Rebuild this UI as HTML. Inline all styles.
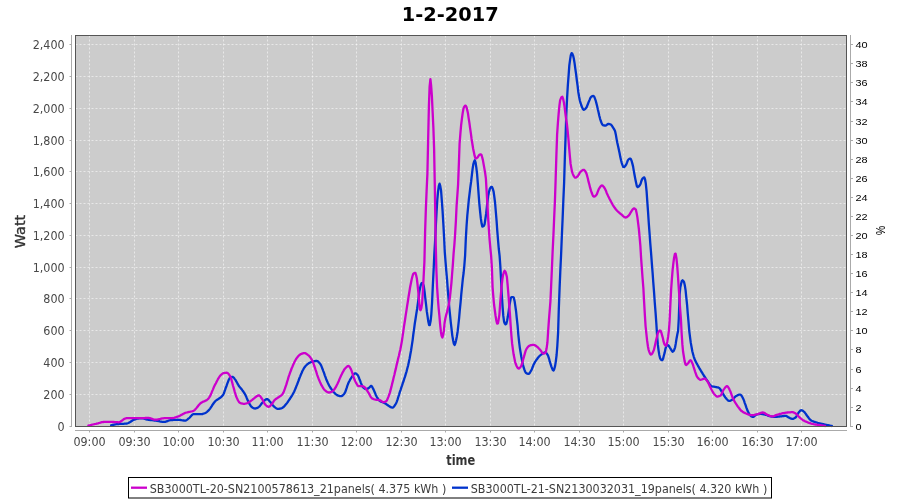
<!DOCTYPE html>
<html lang="en"><head><meta charset="utf-8"><title>1-2-2017</title>
<style>html,body{margin:0;padding:0;background:#fff}svg{display:block}.tl{font-family:"DejaVu Sans Condensed","DejaVu Sans","Liberation Sans",sans-serif;font-size:12.4px;fill:#484848}.tr{font-family:"Liberation Sans",sans-serif;font-size:10px;fill:#000}.lg{font-family:"DejaVu Sans Condensed","DejaVu Sans","Liberation Sans",sans-serif;font-size:12.3px;fill:#3c3c3c}.ax{font-family:"DejaVu Sans Condensed","DejaVu Sans","Liberation Sans",sans-serif;font-size:14px;font-weight:bold;fill:#333}</style></head><body>
<svg width="900" height="500" viewBox="0 0 900 500">
<rect width="900" height="500" fill="#fff"/>
<text x="450.3" y="20.9" text-anchor="middle" textLength="97" lengthAdjust="spacingAndGlyphs" style="font-family:'DejaVu Sans','Liberation Sans',sans-serif;font-size:20.3px;font-weight:bold;fill:#000">1-2-2017</text>
<rect x="75.5" y="35.5" width="771.0" height="391.0" fill="#ccc"/>
<path d="M89.5 35.5V426.5M134.5 35.5V426.5M178.5 35.5V426.5M223.5 35.5V426.5M267.5 35.5V426.5M312.5 35.5V426.5M356.5 35.5V426.5M401.5 35.5V426.5M445.5 35.5V426.5M490.5 35.5V426.5M534.5 35.5V426.5M579.5 35.5V426.5M623.5 35.5V426.5M668.5 35.5V426.5M712.5 35.5V426.5M757.5 35.5V426.5M801.5 35.5V426.5M75.5 394.50H846.5M75.5 362.50H846.5M75.5 330.50H846.5M75.5 298.50H846.5M75.5 267.50H846.5M75.5 235.50H846.5M75.5 203.50H846.5M75.5 171.50H846.5M75.5 140.50H846.5M75.5 108.50H846.5M75.5 76.50H846.5M75.5 44.50H846.5" stroke="#fff" stroke-opacity="0.55" stroke-width="1" stroke-dasharray="2 2" fill="none"/>
<g fill="none" stroke-width="2.3" stroke-linejoin="round" stroke-linecap="round">
<path d="M111.1 425.3 L111.8 425.1 L112.6 424.9 L113.3 424.8 L114.1 424.6 L114.8 424.5 L115.6 424.3 L116.3 424.2 L117.1 424.1 L117.8 424.0 L118.6 424.0 L119.3 423.9 L120.1 423.9 L120.8 423.8 L121.6 423.8 L122.3 423.8 L123.1 423.8 L123.8 423.8 L124.6 423.7 L125.3 423.7 L126.1 423.6 L126.8 423.5 L127.6 423.3 L128.3 423.0 L129.1 422.6 L129.8 422.2 L130.6 421.8 L131.3 421.3 L132.1 420.8 L132.8 420.2 L133.6 419.8 L134.3 419.6 L135.1 419.3 L135.8 419.1 L136.6 418.9 L137.3 418.7 L138.1 418.6 L138.8 418.4 L139.6 418.3 L140.3 418.3 L141.1 418.2 L141.8 418.3 L142.6 418.3 L143.3 418.5 L144.1 418.7 L144.8 418.9 L145.6 419.1 L146.3 419.4 L147.1 419.6 L147.8 419.7 L148.6 419.8 L149.3 419.9 L150.1 420.0 L150.8 420.1 L151.6 420.2 L152.3 420.2 L153.1 420.3 L153.8 420.4 L154.6 420.5 L155.3 420.6 L156.1 420.7 L156.8 420.8 L157.6 420.9 L158.3 421.1 L159.1 421.2 L159.8 421.4 L160.6 421.6 L161.3 421.7 L162.1 421.8 L162.8 421.9 L163.6 421.9 L164.3 421.9 L165.1 421.8 L165.8 421.6 L166.6 421.4 L167.3 421.1 L168.1 420.8 L168.8 420.5 L169.6 420.3 L170.3 420.1 L171.1 420.1 L171.8 420.0 L172.6 420.0 L173.3 419.9 L174.1 419.9 L174.8 419.8 L175.6 419.8 L176.3 419.8 L177.1 419.8 L177.8 419.7 L178.6 419.8 L179.3 419.8 L180.1 419.9 L180.8 420.0 L181.6 420.2 L182.3 420.3 L183.1 420.4 L183.8 420.5 L184.6 420.6 L185.3 420.6 L186.1 420.3 L186.8 419.9 L187.6 419.3 L188.3 418.7 L189.1 418.1 L189.8 417.5 L190.6 416.6 L191.3 415.7 L192.1 414.9 L192.8 414.3 L193.6 414.2 L194.3 414.2 L195.1 414.2 L195.8 414.2 L196.6 414.2 L197.3 414.2 L198.1 414.2 L198.8 414.2 L199.6 414.2 L200.3 414.2 L201.1 414.2 L201.8 414.1 L202.6 414.0 L203.3 413.7 L204.1 413.5 L204.8 413.2 L205.6 412.8 L206.3 412.4 L207.1 411.8 L207.8 411.1 L208.6 410.4 L209.3 409.6 L210.1 408.6 L210.8 407.5 L211.6 406.4 L212.3 405.2 L213.1 404.0 L213.8 403.0 L214.6 402.0 L215.3 401.2 L216.1 400.5 L216.8 399.9 L217.6 399.4 L218.3 399.0 L219.1 398.5 L219.8 398.1 L220.6 397.5 L221.3 396.9 L222.1 396.2 L222.8 395.3 L223.6 394.0 L224.3 392.1 L225.1 389.9 L225.8 387.7 L226.6 385.7 L227.3 383.7 L228.1 381.6 L228.8 379.7 L229.6 378.3 L230.3 377.6 L231.1 377.3 L231.8 377.0 L232.6 376.9 L233.3 377.2 L234.1 378.0 L234.8 379.1 L235.6 380.1 L236.3 381.4 L237.1 382.8 L237.8 384.2 L238.6 385.5 L239.3 386.5 L240.1 387.4 L240.8 388.2 L241.6 389.2 L242.3 390.2 L243.1 391.2 L243.8 392.3 L244.6 393.5 L245.3 394.8 L246.1 396.4 L246.8 398.2 L247.6 400.0 L248.3 401.7 L249.1 403.1 L249.8 404.4 L250.6 405.7 L251.3 406.6 L252.1 407.3 L252.8 407.7 L253.6 408.1 L254.3 408.4 L255.1 408.5 L255.8 408.4 L256.6 408.2 L257.3 407.9 L258.1 407.4 L258.8 406.9 L259.6 406.3 L260.3 405.4 L261.1 404.3 L261.8 403.3 L262.6 402.4 L263.3 401.6 L264.1 400.9 L264.8 400.2 L265.6 399.6 L266.3 399.2 L267.1 399.1 L267.8 399.4 L268.6 400.0 L269.3 400.9 L270.1 401.8 L270.8 402.6 L271.6 403.6 L272.3 404.7 L273.1 405.6 L273.8 406.4 L274.6 407.0 L275.3 407.6 L276.1 408.2 L276.8 408.6 L277.6 408.8 L278.3 408.8 L279.1 408.8 L279.8 408.6 L280.6 408.5 L281.3 408.3 L282.1 408.0 L282.8 407.6 L283.6 407.0 L284.3 406.2 L285.1 405.4 L285.8 404.4 L286.6 403.5 L287.3 402.6 L288.1 401.5 L288.8 400.4 L289.6 399.3 L290.3 398.1 L291.1 397.0 L291.8 395.8 L292.6 394.5 L293.3 393.2 L294.1 391.7 L294.8 390.1 L295.6 388.3 L296.3 386.4 L297.1 384.5 L297.8 382.6 L298.6 380.5 L299.3 378.5 L300.1 376.6 L300.8 374.8 L301.6 373.0 L302.3 371.3 L303.1 369.8 L303.8 368.4 L304.6 367.3 L305.3 366.3 L306.1 365.5 L306.8 364.7 L307.6 364.1 L308.3 363.6 L309.1 363.1 L309.8 362.7 L310.6 362.3 L311.3 362.0 L312.1 361.8 L312.8 361.6 L313.6 361.4 L314.3 361.2 L315.1 361.1 L315.8 361.0 L316.6 361.0 L317.3 361.1 L318.1 361.6 L318.8 362.3 L319.6 363.1 L320.3 364.0 L321.1 365.4 L321.8 367.2 L322.6 369.2 L323.3 371.1 L324.1 373.1 L324.8 375.3 L325.6 377.4 L326.3 379.5 L327.1 381.2 L327.8 382.8 L328.6 384.4 L329.3 385.8 L330.1 387.1 L330.8 388.3 L331.6 389.4 L332.3 390.4 L333.1 391.4 L333.8 392.2 L334.6 393.0 L335.3 393.8 L336.1 394.4 L336.8 395.0 L337.6 395.4 L338.3 395.7 L339.1 395.9 L339.8 396.1 L340.6 396.2 L341.3 396.2 L342.1 395.9 L342.8 395.3 L343.6 394.5 L344.3 393.7 L345.1 392.4 L345.8 390.5 L346.6 388.2 L347.3 385.9 L348.1 383.8 L348.8 382.1 L349.6 380.7 L350.3 379.3 L351.1 378.1 L351.8 377.0 L352.6 375.9 L353.3 374.8 L354.1 373.9 L354.8 373.3 L355.6 373.3 L356.3 373.7 L357.1 374.5 L357.8 375.3 L358.6 376.8 L359.3 378.7 L360.1 380.7 L360.8 382.6 L361.6 384.6 L362.3 386.3 L363.1 387.3 L363.8 387.9 L364.6 388.5 L365.3 388.9 L366.1 389.0 L366.8 388.9 L367.6 388.7 L368.3 388.2 L369.1 387.7 L369.8 387.1 L370.6 386.1 L371.3 385.8 L372.1 386.7 L372.8 388.1 L373.6 389.6 L374.3 391.2 L375.1 393.1 L375.8 394.9 L376.6 396.5 L377.3 397.8 L378.1 398.9 L378.8 399.9 L379.6 400.8 L380.3 401.3 L381.1 401.7 L381.8 402.0 L382.6 402.2 L383.3 402.5 L384.1 402.8 L384.8 403.2 L385.6 403.6 L386.3 404.2 L387.1 404.7 L387.8 405.3 L388.6 405.8 L389.3 406.2 L390.1 406.7 L390.8 407.2 L391.6 407.5 L392.3 407.7 L393.1 407.4 L393.8 406.7 L394.6 405.7 L395.3 404.7 L396.1 403.3 L396.8 401.6 L397.6 399.4 L398.3 397.0 L399.1 394.6 L399.8 392.1 L400.6 389.8 L401.3 387.6 L402.1 385.4 L402.8 383.2 L403.6 381.0 L404.3 378.7 L405.1 376.4 L405.8 373.9 L406.6 371.3 L407.3 368.5 L408.1 365.5 L408.8 362.2 L409.6 358.5 L410.3 354.5 L411.1 350.2 L411.8 345.6 L412.6 340.3 L413.3 334.5 L414.1 328.8 L414.8 323.5 L415.6 318.5 L416.3 313.8 L417.1 309.0 L417.8 303.9 L418.6 297.9 L419.3 292.0 L420.1 288.0 L420.8 285.0 L421.6 283.1 L422.3 283.0 L423.1 284.2 L423.8 286.2 L424.6 291.8 L425.3 298.4 L426.1 304.9 L426.8 311.4 L427.6 316.6 L428.3 321.6 L429.1 325.1 L429.8 325.1 L430.6 321.1 L431.3 314.7 L432.1 302.0 L432.8 286.4 L433.6 270.2 L434.3 254.8 L435.1 241.0 L435.8 226.4 L436.6 211.4 L437.3 199.8 L438.1 191.1 L438.8 186.1 L439.6 183.7 L440.3 186.1 L441.1 191.0 L441.8 200.3 L442.6 211.4 L443.3 223.2 L444.1 237.5 L444.8 252.4 L445.6 262.5 L446.3 271.2 L447.1 280.2 L447.8 290.0 L448.6 299.4 L449.3 307.8 L450.1 315.5 L450.8 322.7 L451.6 329.3 L452.3 335.6 L453.1 340.3 L453.8 343.6 L454.6 345.0 L455.3 343.4 L456.1 340.3 L456.8 336.7 L457.6 331.7 L458.3 325.7 L459.1 318.1 L459.8 310.2 L460.6 302.2 L461.3 294.0 L462.1 286.1 L462.8 279.1 L463.6 273.0 L464.3 266.0 L465.1 255.7 L465.8 239.1 L466.6 225.3 L467.3 215.6 L468.1 207.3 L468.8 200.0 L469.6 193.3 L470.3 187.4 L471.1 181.7 L471.8 175.6 L472.6 168.9 L473.3 164.4 L474.1 161.5 L474.8 160.2 L475.6 162.7 L476.3 167.4 L477.1 174.1 L477.8 183.1 L478.6 194.0 L479.3 203.3 L480.1 211.7 L480.8 218.2 L481.6 223.6 L482.3 226.5 L483.1 226.4 L483.8 225.9 L484.6 224.2 L485.3 219.5 L486.1 214.0 L486.8 207.6 L487.6 200.5 L488.3 195.2 L489.1 191.6 L489.8 188.9 L490.6 187.5 L491.3 186.8 L492.1 187.1 L492.8 188.9 L493.6 191.6 L494.3 196.6 L495.1 203.0 L495.8 211.5 L496.6 221.2 L497.3 231.1 L498.1 241.0 L498.8 249.0 L499.6 255.8 L500.3 265.7 L501.1 280.5 L501.8 294.7 L502.6 306.8 L503.3 315.9 L504.1 321.8 L504.8 323.5 L505.6 324.4 L506.3 323.9 L507.1 320.7 L507.8 316.8 L508.6 311.6 L509.3 306.3 L510.1 301.9 L510.8 298.0 L511.6 297.1 L512.3 297.1 L513.1 297.1 L513.8 297.7 L514.6 301.2 L515.3 305.8 L516.1 311.5 L516.8 318.4 L517.6 325.7 L518.3 334.5 L519.1 341.9 L519.8 347.6 L520.6 352.5 L521.3 356.8 L522.1 360.8 L522.8 364.3 L523.6 367.1 L524.3 369.4 L525.1 371.5 L525.8 372.8 L526.6 373.3 L527.3 373.7 L528.1 373.9 L528.8 373.9 L529.6 373.2 L530.3 372.0 L531.1 370.7 L531.8 369.2 L532.6 367.3 L533.3 365.3 L534.1 363.7 L534.8 362.4 L535.6 361.1 L536.3 360.0 L537.1 359.0 L537.8 358.0 L538.6 357.1 L539.3 356.3 L540.1 355.5 L540.8 354.9 L541.6 354.3 L542.3 353.8 L543.1 353.3 L543.8 352.9 L544.6 352.5 L545.3 352.4 L546.1 352.7 L546.8 353.6 L547.6 354.8 L548.3 356.3 L549.1 358.8 L549.8 361.7 L550.6 364.1 L551.3 366.3 L552.1 368.4 L552.8 370.0 L553.6 370.5 L554.3 369.0 L555.1 365.9 L555.8 361.6 L556.6 355.0 L557.3 346.1 L558.1 332.6 L558.8 309.1 L559.6 287.9 L560.3 271.4 L561.1 254.5 L561.8 237.2 L562.6 219.0 L563.3 201.5 L564.1 183.1 L564.8 159.4 L565.6 135.7 L566.3 113.9 L567.1 97.9 L567.8 85.9 L568.6 75.3 L569.3 65.7 L570.1 59.7 L570.8 55.2 L571.6 53.1 L572.3 53.7 L573.1 55.6 L573.8 58.5 L574.6 63.4 L575.3 68.6 L576.1 74.2 L576.8 80.0 L577.6 85.9 L578.3 92.0 L579.1 96.8 L579.8 100.3 L580.6 103.2 L581.3 105.3 L582.1 107.3 L582.8 108.9 L583.6 109.8 L584.3 109.7 L585.1 109.1 L585.8 108.2 L586.6 107.2 L587.3 105.5 L588.1 103.5 L588.8 101.7 L589.6 99.9 L590.3 98.1 L591.1 96.9 L591.8 96.4 L592.6 96.1 L593.3 95.9 L594.1 96.4 L594.8 98.1 L595.6 100.3 L596.3 102.9 L597.1 106.0 L597.8 109.3 L598.6 112.5 L599.3 115.8 L600.1 118.8 L600.8 121.0 L601.6 123.0 L602.3 124.5 L603.1 125.3 L603.8 125.4 L604.6 125.5 L605.3 125.6 L606.1 125.4 L606.8 124.8 L607.6 124.1 L608.3 123.9 L609.1 124.0 L609.8 124.2 L610.6 124.4 L611.3 125.0 L612.1 126.0 L612.8 127.3 L613.6 128.4 L614.3 129.6 L615.1 131.3 L615.8 134.4 L616.6 139.1 L617.3 142.7 L618.1 146.2 L618.8 149.5 L619.6 153.2 L620.3 157.1 L621.1 160.5 L621.8 163.1 L622.6 165.4 L623.3 167.0 L624.1 167.2 L624.8 166.5 L625.6 165.5 L626.3 164.3 L627.1 162.4 L627.8 160.4 L628.6 159.4 L629.3 158.9 L630.1 158.6 L630.8 159.0 L631.6 160.9 L632.3 163.4 L633.1 166.6 L633.8 170.9 L634.6 175.3 L635.3 179.0 L636.1 182.8 L636.8 186.0 L637.6 187.1 L638.3 186.8 L639.1 186.1 L639.8 185.2 L640.6 183.7 L641.3 181.2 L642.1 179.2 L642.8 178.3 L643.6 177.6 L644.3 177.4 L645.1 179.5 L645.8 183.6 L646.6 191.4 L647.3 201.6 L648.1 212.7 L648.8 223.4 L649.6 233.8 L650.3 243.7 L651.1 253.3 L651.8 262.9 L652.6 272.8 L653.3 282.7 L654.1 292.8 L654.8 303.0 L655.6 313.2 L656.3 322.9 L657.1 335.6 L657.8 344.2 L658.6 350.6 L659.3 354.9 L660.1 358.2 L660.8 359.5 L661.6 360.0 L662.3 360.1 L663.1 358.6 L663.8 355.8 L664.6 352.9 L665.3 349.4 L666.1 346.7 L666.8 345.7 L667.6 345.0 L668.3 345.3 L669.1 346.3 L669.8 347.6 L670.6 348.7 L671.3 350.0 L672.1 351.2 L672.8 351.7 L673.6 351.1 L674.3 349.5 L675.1 347.3 L675.8 343.4 L676.6 338.2 L677.3 334.5 L678.1 330.7 L678.8 318.5 L679.6 294.6 L680.3 287.5 L681.1 283.8 L681.8 281.1 L682.6 280.3 L683.3 281.0 L684.1 282.2 L684.8 285.3 L685.6 290.4 L686.3 297.3 L687.1 305.1 L687.8 314.0 L688.6 322.9 L689.3 331.3 L690.1 337.7 L690.8 342.9 L691.6 347.3 L692.3 351.2 L693.1 354.3 L693.8 356.8 L694.6 359.0 L695.3 360.8 L696.1 362.3 L696.8 363.7 L697.6 365.0 L698.3 366.4 L699.1 367.7 L699.8 369.0 L700.6 370.2 L701.3 371.5 L702.1 372.7 L702.8 373.9 L703.6 375.1 L704.3 376.3 L705.1 377.4 L705.8 378.6 L706.6 379.7 L707.3 380.8 L708.1 381.9 L708.8 383.0 L709.6 384.2 L710.3 385.2 L711.1 385.9 L711.8 386.3 L712.6 386.5 L713.3 386.6 L714.1 386.7 L714.8 386.8 L715.6 387.0 L716.3 387.1 L717.1 387.3 L717.8 387.4 L718.6 387.7 L719.3 388.0 L720.1 388.9 L720.8 390.1 L721.6 391.5 L722.3 392.8 L723.1 393.9 L723.8 395.2 L724.6 396.3 L725.3 397.4 L726.1 398.3 L726.8 399.2 L727.6 400.0 L728.3 400.7 L729.1 400.9 L729.8 400.8 L730.6 400.6 L731.3 400.2 L732.1 399.8 L732.8 399.3 L733.6 398.6 L734.3 397.7 L735.1 396.8 L735.8 396.2 L736.6 395.8 L737.3 395.4 L738.1 395.0 L738.8 394.7 L739.6 394.6 L740.3 394.6 L741.1 395.2 L741.8 396.2 L742.6 397.5 L743.3 398.9 L744.1 400.9 L744.8 403.1 L745.6 405.2 L746.3 407.4 L747.1 409.5 L747.8 411.3 L748.6 412.8 L749.3 414.2 L750.1 415.2 L750.8 415.9 L751.6 416.4 L752.3 416.8 L753.1 416.9 L753.8 416.6 L754.6 415.9 L755.3 415.3 L756.1 414.8 L756.8 414.5 L757.6 414.3 L758.3 414.1 L759.1 414.0 L759.8 413.9 L760.6 413.9 L761.3 413.9 L762.1 414.0 L762.8 414.1 L763.6 414.3 L764.3 414.4 L765.1 414.6 L765.8 414.8 L766.6 415.0 L767.3 415.3 L768.1 415.6 L768.8 415.9 L769.6 416.2 L770.3 416.3 L771.1 416.5 L771.8 416.6 L772.6 416.7 L773.3 416.8 L774.1 416.8 L774.8 416.9 L775.6 416.9 L776.3 416.9 L777.1 416.8 L777.8 416.7 L778.6 416.6 L779.3 416.5 L780.1 416.4 L780.8 416.4 L781.6 416.3 L782.3 416.2 L783.1 416.1 L783.8 416.0 L784.6 415.9 L785.3 415.9 L786.1 415.9 L786.8 416.2 L787.6 416.7 L788.3 417.2 L789.1 417.6 L789.8 418.0 L790.6 418.4 L791.3 418.7 L792.1 418.9 L792.8 418.9 L793.6 418.6 L794.3 418.2 L795.1 417.7 L795.8 417.2 L796.6 416.1 L797.3 414.6 L798.1 413.3 L798.8 412.3 L799.6 411.4 L800.3 410.6 L801.1 410.2 L801.8 410.3 L802.6 410.6 L803.3 411.2 L804.1 411.8 L804.8 412.6 L805.6 413.6 L806.3 414.7 L807.1 415.8 L807.8 416.8 L808.6 417.8 L809.3 418.8 L810.1 419.6 L810.8 420.2 L811.6 420.7 L812.3 421.0 L813.1 421.3 L813.8 421.6 L814.6 421.8 L815.3 422.1 L816.1 422.3 L816.8 422.5 L817.6 422.8 L818.3 423.0 L819.1 423.2 L819.8 423.3 L820.6 423.5 L821.3 423.7 L822.1 423.9 L822.8 424.1 L823.6 424.2 L824.3 424.4 L825.1 424.6 L825.8 424.8 L826.6 424.9 L827.3 425.1 L828.1 425.2 L828.8 425.4 L829.6 425.5 L830.3 425.7 L831.1 425.8 L831.8 426.0 L831.9 426.0" stroke="#0033cc"/>
<path d="M88.4 425.6 L89.1 425.4 L89.9 425.3 L90.6 425.1 L91.4 424.9 L92.1 424.7 L92.9 424.5 L93.6 424.3 L94.4 424.2 L95.1 424.0 L95.9 423.8 L96.6 423.6 L97.4 423.5 L98.1 423.3 L98.9 423.0 L99.6 422.8 L100.4 422.6 L101.1 422.4 L101.9 422.2 L102.6 422.1 L103.4 422.0 L104.1 421.9 L104.9 421.9 L105.6 421.9 L106.4 421.9 L107.1 421.9 L107.9 421.9 L108.6 421.9 L109.4 421.9 L110.1 421.9 L110.9 421.9 L111.6 421.9 L112.4 421.9 L113.1 422.0 L113.9 422.0 L114.6 422.1 L115.4 422.1 L116.1 422.2 L116.9 422.2 L117.6 422.2 L118.4 422.3 L119.1 422.2 L119.9 422.0 L120.6 421.6 L121.4 421.1 L122.1 420.5 L122.9 419.9 L123.6 419.3 L124.4 418.9 L125.1 418.5 L125.9 418.3 L126.6 418.2 L127.4 418.2 L128.1 418.2 L128.9 418.1 L129.6 418.1 L130.4 418.1 L131.1 418.1 L131.9 418.1 L132.6 418.1 L133.4 418.1 L134.1 418.1 L134.9 418.1 L135.6 418.1 L136.4 418.1 L137.1 418.1 L137.9 418.2 L138.6 418.2 L139.4 418.2 L140.1 418.2 L140.9 418.2 L141.6 418.2 L142.4 418.2 L143.1 418.2 L143.9 418.1 L144.6 418.1 L145.4 418.0 L146.1 418.0 L146.9 417.9 L147.6 417.9 L148.4 417.9 L149.1 418.0 L149.9 418.2 L150.6 418.4 L151.4 418.7 L152.1 418.9 L152.9 419.2 L153.6 419.4 L154.4 419.6 L155.1 419.7 L155.9 419.7 L156.6 419.7 L157.4 419.6 L158.1 419.4 L158.9 419.2 L159.6 419.0 L160.4 418.8 L161.1 418.6 L161.9 418.5 L162.6 418.3 L163.4 418.3 L164.1 418.2 L164.9 418.2 L165.6 418.2 L166.4 418.2 L167.1 418.2 L167.9 418.2 L168.6 418.2 L169.4 418.2 L170.1 418.2 L170.9 418.2 L171.6 418.2 L172.4 418.1 L173.1 418.0 L173.9 417.8 L174.6 417.6 L175.4 417.3 L176.1 417.1 L176.9 416.8 L177.6 416.6 L178.4 416.3 L179.1 416.1 L179.9 415.7 L180.6 415.3 L181.4 414.9 L182.1 414.5 L182.9 414.1 L183.6 413.6 L184.4 413.3 L185.1 412.9 L185.9 412.7 L186.6 412.5 L187.4 412.3 L188.1 412.1 L188.9 412.0 L189.6 411.8 L190.4 411.7 L191.1 411.5 L191.9 411.3 L192.6 411.1 L193.4 410.8 L194.1 410.4 L194.9 409.8 L195.6 409.0 L196.4 408.2 L197.1 407.2 L197.9 406.2 L198.6 405.3 L199.4 404.4 L200.1 403.6 L200.9 403.0 L201.6 402.5 L202.4 402.1 L203.1 401.7 L203.9 401.4 L204.6 401.1 L205.4 400.7 L206.1 400.4 L206.9 399.9 L207.6 399.4 L208.4 398.7 L209.1 397.7 L209.9 396.4 L210.6 394.9 L211.4 393.2 L212.1 391.4 L212.9 389.6 L213.6 387.8 L214.4 386.1 L215.1 384.6 L215.9 383.2 L216.6 381.7 L217.4 380.2 L218.1 378.8 L218.9 377.6 L219.6 376.5 L220.4 375.6 L221.1 374.8 L221.9 374.1 L222.6 373.5 L223.4 373.2 L224.1 373.0 L224.9 372.9 L225.6 372.8 L226.4 372.7 L227.1 372.8 L227.9 373.3 L228.6 374.0 L229.4 375.1 L230.1 376.2 L230.9 377.9 L231.6 380.4 L232.4 383.2 L233.1 386.0 L233.9 388.6 L234.6 391.3 L235.4 393.9 L236.1 396.3 L236.9 398.1 L237.6 399.6 L238.4 401.0 L239.1 402.1 L239.9 402.8 L240.6 403.1 L241.4 403.4 L242.1 403.5 L242.9 403.7 L243.6 403.8 L244.4 403.8 L245.1 403.7 L245.9 403.5 L246.6 403.3 L247.4 403.0 L248.1 402.6 L248.9 402.3 L249.6 401.8 L250.4 401.3 L251.1 400.7 L251.9 400.1 L252.6 399.5 L253.4 398.9 L254.1 398.4 L254.9 397.7 L255.6 397.1 L256.4 396.5 L257.1 396.0 L257.9 395.6 L258.6 395.4 L259.4 395.5 L260.1 396.1 L260.9 397.1 L261.6 398.3 L262.4 399.4 L263.1 400.8 L263.9 402.3 L264.6 403.7 L265.4 404.7 L266.1 405.4 L266.9 406.0 L267.6 406.5 L268.4 406.8 L269.1 406.7 L269.9 406.3 L270.6 405.5 L271.4 404.6 L272.1 403.7 L272.9 402.6 L273.6 401.4 L274.4 400.3 L275.1 399.6 L275.9 399.0 L276.6 398.5 L277.4 398.0 L278.1 397.5 L278.9 397.0 L279.6 396.5 L280.4 396.0 L281.1 395.5 L281.9 394.8 L282.6 394.0 L283.4 392.6 L284.1 390.8 L284.9 388.7 L285.6 386.6 L286.4 384.4 L287.1 381.9 L287.9 379.4 L288.6 376.9 L289.4 374.7 L290.1 372.6 L290.9 370.5 L291.6 368.5 L292.4 366.7 L293.1 365.0 L293.9 363.3 L294.6 361.8 L295.4 360.3 L296.1 359.0 L296.9 357.9 L297.6 357.0 L298.4 356.1 L299.1 355.3 L299.9 354.7 L300.6 354.2 L301.4 353.9 L302.1 353.6 L302.9 353.3 L303.6 353.1 L304.4 353.1 L305.1 353.2 L305.9 353.5 L306.6 354.0 L307.4 354.5 L308.1 355.1 L308.9 355.7 L309.6 356.5 L310.4 357.5 L311.1 358.6 L311.9 359.9 L312.6 361.4 L313.4 363.3 L314.1 365.5 L314.9 367.7 L315.6 369.9 L316.4 372.2 L317.1 374.6 L317.9 376.8 L318.6 378.7 L319.4 380.6 L320.1 382.3 L320.9 383.9 L321.6 385.4 L322.4 386.7 L323.1 388.0 L323.9 389.1 L324.6 390.0 L325.4 390.7 L326.1 391.3 L326.9 391.8 L327.6 392.2 L328.4 392.5 L329.1 392.5 L329.9 392.4 L330.6 392.1 L331.4 391.8 L332.1 391.4 L332.9 390.9 L333.6 390.2 L334.4 389.3 L335.1 388.2 L335.9 387.0 L336.6 385.5 L337.4 384.0 L338.1 382.4 L338.9 380.7 L339.6 378.9 L340.4 377.1 L341.1 375.5 L341.9 374.0 L342.6 372.5 L343.4 371.1 L344.1 369.8 L344.9 368.8 L345.6 368.0 L346.4 367.2 L347.1 366.6 L347.9 366.1 L348.6 366.0 L349.4 366.6 L350.1 367.7 L350.9 369.1 L351.6 370.9 L352.4 373.3 L353.1 375.8 L353.9 377.9 L354.6 379.8 L355.4 381.5 L356.1 382.9 L356.9 384.3 L357.6 385.5 L358.4 386.1 L359.1 386.2 L359.9 386.2 L360.6 386.2 L361.4 386.2 L362.1 386.2 L362.9 386.3 L363.6 386.6 L364.4 387.0 L365.1 387.6 L365.9 388.7 L366.6 389.9 L367.4 391.0 L368.1 392.2 L368.9 393.4 L369.6 394.7 L370.4 396.3 L371.1 397.5 L371.9 398.2 L372.6 398.7 L373.4 399.0 L374.1 399.3 L374.9 399.5 L375.6 399.7 L376.4 399.8 L377.1 399.8 L377.9 399.9 L378.6 400.0 L379.4 400.1 L380.1 400.4 L380.9 400.8 L381.6 401.3 L382.4 401.8 L383.1 402.1 L383.9 402.1 L384.6 401.9 L385.4 401.6 L386.1 401.3 L386.9 400.4 L387.6 398.8 L388.4 396.9 L389.1 394.9 L389.9 392.6 L390.6 389.9 L391.4 386.9 L392.1 383.9 L392.9 380.9 L393.6 377.8 L394.4 374.7 L395.1 371.6 L395.9 368.4 L396.6 365.1 L397.4 361.9 L398.1 358.8 L398.9 355.8 L399.6 352.6 L400.4 349.2 L401.1 345.4 L401.9 341.1 L402.6 336.1 L403.4 330.9 L404.1 325.7 L404.9 320.7 L405.6 315.8 L406.4 310.9 L407.1 306.1 L407.9 301.3 L408.6 296.5 L409.4 291.7 L410.1 287.2 L410.9 283.3 L411.6 279.8 L412.4 276.5 L413.1 274.1 L413.9 273.3 L414.6 272.9 L415.4 272.9 L416.1 275.1 L416.9 278.8 L417.6 285.0 L418.4 293.0 L419.1 301.5 L419.9 309.4 L420.6 310.2 L421.4 307.9 L422.1 303.6 L422.9 291.3 L423.6 277.8 L424.4 262.0 L425.1 232.1 L425.9 207.9 L426.6 191.1 L427.4 173.6 L428.1 141.7 L428.9 106.4 L429.6 86.9 L430.4 79.1 L431.1 85.3 L431.9 96.3 L432.6 111.3 L433.4 128.3 L434.1 148.4 L434.9 191.0 L435.6 238.7 L436.4 270.5 L437.1 287.4 L437.9 299.2 L438.6 308.0 L439.4 315.9 L440.1 324.2 L440.9 331.7 L441.6 335.8 L442.4 337.5 L443.1 335.2 L443.9 330.7 L444.6 322.6 L445.4 318.3 L446.1 315.3 L446.9 312.4 L447.6 309.4 L448.4 306.4 L449.1 302.9 L449.9 297.7 L450.6 290.8 L451.4 283.1 L452.1 274.0 L452.9 263.9 L453.6 253.4 L454.4 244.3 L455.1 234.5 L455.9 220.8 L456.6 205.8 L457.4 194.5 L458.1 184.4 L458.9 163.0 L459.6 143.3 L460.4 133.3 L461.1 125.4 L461.9 118.9 L462.6 113.6 L463.4 109.0 L464.1 106.9 L464.9 105.9 L465.6 105.6 L466.4 106.9 L467.1 109.4 L467.9 112.9 L468.6 117.9 L469.4 122.9 L470.1 128.2 L470.9 133.6 L471.6 139.0 L472.4 144.0 L473.1 148.4 L473.9 152.2 L474.6 155.7 L475.4 158.3 L476.1 158.4 L476.9 158.0 L477.6 157.4 L478.4 156.1 L479.1 155.0 L479.9 154.6 L480.6 154.3 L481.4 154.7 L482.1 157.0 L482.9 160.1 L483.6 164.1 L484.4 168.6 L485.1 172.7 L485.9 178.6 L486.6 190.9 L487.4 204.1 L488.1 217.4 L488.9 229.3 L489.6 239.6 L490.4 248.7 L491.1 255.5 L491.9 267.8 L492.6 287.5 L493.4 297.6 L494.1 305.0 L494.9 310.8 L495.6 316.0 L496.4 320.7 L497.1 323.6 L497.9 323.4 L498.6 319.9 L499.4 314.6 L500.1 304.5 L500.9 294.2 L501.6 286.0 L502.4 279.0 L503.1 274.9 L503.9 272.1 L504.6 270.8 L505.4 271.5 L506.1 273.7 L506.9 277.0 L507.6 284.6 L508.4 294.3 L509.1 303.7 L509.9 313.7 L510.6 324.5 L511.4 335.5 L512.1 343.4 L512.9 349.4 L513.6 354.3 L514.4 358.3 L515.1 361.8 L515.9 364.3 L516.6 366.0 L517.4 367.5 L518.1 368.4 L518.9 368.5 L519.6 368.0 L520.4 367.2 L521.1 366.2 L521.9 364.3 L522.6 361.5 L523.4 358.6 L524.1 356.1 L524.9 353.4 L525.6 350.9 L526.4 349.1 L527.1 348.0 L527.9 347.1 L528.6 346.3 L529.4 345.8 L530.1 345.4 L530.9 345.2 L531.6 345.1 L532.4 344.9 L533.1 344.9 L533.9 344.9 L534.6 345.1 L535.4 345.5 L536.1 346.0 L536.9 346.6 L537.6 347.2 L538.4 347.9 L539.1 348.7 L539.9 349.5 L540.6 350.4 L541.4 351.5 L542.1 352.7 L542.9 353.5 L543.6 353.7 L544.4 353.5 L545.1 353.1 L545.9 351.9 L546.6 348.3 L547.4 342.7 L548.1 331.8 L548.9 320.4 L549.6 311.5 L550.4 301.6 L551.1 286.7 L551.9 268.7 L552.6 252.2 L553.4 235.8 L554.1 219.5 L554.9 201.4 L555.6 180.9 L556.4 154.9 L557.1 134.9 L557.9 122.9 L558.6 114.2 L559.4 105.9 L560.1 100.4 L560.9 98.4 L561.6 97.1 L562.4 96.8 L563.1 98.8 L563.9 102.4 L564.6 107.1 L565.4 113.5 L566.1 118.9 L566.9 123.9 L567.6 130.4 L568.4 138.8 L569.1 147.5 L569.9 156.7 L570.6 163.9 L571.4 168.4 L572.1 171.9 L572.9 174.1 L573.6 175.7 L574.4 177.0 L575.1 177.7 L575.9 177.6 L576.6 177.1 L577.4 176.5 L578.1 175.7 L578.9 174.4 L579.6 173.0 L580.4 172.0 L581.1 171.3 L581.9 170.6 L582.6 170.1 L583.4 169.8 L584.1 169.9 L584.9 170.7 L585.6 171.9 L586.4 173.4 L587.1 175.7 L587.9 178.8 L588.6 181.9 L589.4 184.7 L590.1 187.7 L590.9 190.4 L591.6 192.5 L592.4 194.5 L593.1 196.1 L593.9 196.7 L594.6 196.4 L595.4 195.9 L596.1 195.2 L596.9 194.1 L597.6 192.1 L598.4 190.1 L599.1 188.6 L599.9 187.4 L600.6 186.3 L601.4 185.6 L602.1 185.5 L602.9 185.9 L603.6 186.7 L604.4 187.8 L605.1 189.0 L605.9 190.7 L606.6 192.7 L607.4 194.4 L608.1 196.0 L608.9 197.5 L609.6 199.0 L610.4 200.4 L611.1 201.8 L611.9 203.2 L612.6 204.6 L613.4 205.8 L614.1 207.0 L614.9 208.0 L615.6 209.0 L616.4 209.9 L617.1 210.7 L617.9 211.5 L618.6 212.2 L619.4 212.9 L620.1 213.5 L620.9 214.1 L621.6 214.7 L622.4 215.4 L623.1 216.1 L623.9 216.7 L624.6 217.2 L625.4 217.5 L626.1 217.4 L626.9 217.1 L627.6 216.5 L628.4 215.9 L629.1 215.1 L629.9 214.0 L630.6 212.6 L631.4 211.3 L632.1 210.2 L632.9 209.1 L633.6 208.5 L634.4 208.5 L635.1 209.0 L635.9 209.7 L636.6 212.9 L637.4 217.4 L638.1 222.8 L638.9 229.3 L639.6 236.9 L640.4 246.2 L641.1 258.0 L641.9 269.1 L642.6 278.5 L643.4 288.5 L644.1 301.6 L644.9 315.6 L645.6 326.3 L646.4 334.0 L647.1 340.4 L647.9 346.2 L648.6 349.8 L649.4 352.1 L650.1 353.8 L650.9 354.6 L651.6 354.2 L652.4 353.2 L653.1 351.7 L653.9 349.9 L654.6 347.0 L655.4 343.5 L656.1 340.3 L656.9 337.0 L657.6 333.9 L658.4 332.1 L659.1 331.1 L659.9 330.5 L660.6 330.8 L661.4 332.8 L662.1 335.4 L662.9 338.3 L663.6 341.7 L664.4 344.1 L665.1 345.2 L665.9 345.8 L666.6 344.9 L667.4 341.3 L668.1 336.9 L668.9 330.6 L669.6 321.2 L670.4 304.0 L671.1 290.2 L671.9 278.9 L672.6 270.1 L673.4 262.8 L674.1 257.7 L674.9 254.0 L675.6 253.6 L676.4 257.9 L677.1 264.6 L677.9 275.0 L678.6 285.9 L679.4 297.3 L680.1 308.5 L680.9 318.8 L681.6 332.7 L682.4 344.7 L683.1 351.8 L683.9 356.8 L684.6 361.1 L685.4 364.3 L686.1 365.1 L686.9 364.6 L687.6 363.8 L688.4 362.9 L689.1 361.6 L689.9 360.5 L690.6 360.2 L691.4 361.1 L692.1 362.7 L692.9 364.5 L693.6 366.9 L694.4 369.4 L695.1 371.6 L695.9 373.9 L696.6 375.9 L697.4 377.2 L698.1 378.1 L698.9 378.9 L699.6 379.5 L700.4 379.8 L701.1 379.7 L701.9 379.5 L702.6 379.2 L703.4 378.9 L704.1 378.7 L704.9 378.6 L705.6 379.1 L706.4 379.9 L707.1 381.0 L707.9 382.1 L708.6 383.6 L709.4 385.2 L710.1 386.9 L710.9 388.3 L711.6 389.8 L712.4 391.2 L713.1 392.5 L713.9 393.6 L714.6 394.5 L715.4 395.3 L716.1 396.0 L716.9 396.5 L717.6 396.6 L718.4 396.4 L719.1 396.2 L719.9 395.8 L720.6 395.4 L721.4 394.5 L722.1 392.9 L722.9 391.1 L723.6 389.6 L724.4 388.6 L725.1 387.6 L725.9 386.8 L726.6 386.2 L727.4 386.2 L728.1 387.0 L728.9 388.3 L729.6 389.8 L730.4 391.4 L731.1 393.4 L731.9 395.6 L732.6 397.5 L733.4 399.1 L734.1 400.6 L734.9 402.0 L735.6 403.2 L736.4 404.4 L737.1 405.5 L737.9 406.6 L738.6 407.5 L739.4 408.5 L740.1 409.5 L740.9 410.4 L741.6 411.1 L742.4 411.6 L743.1 412.1 L743.9 412.5 L744.6 412.9 L745.4 413.2 L746.1 413.5 L746.9 413.8 L747.6 414.1 L748.4 414.4 L749.1 414.6 L749.9 414.9 L750.6 415.1 L751.4 415.2 L752.1 415.2 L752.9 415.2 L753.6 415.1 L754.4 414.9 L755.1 414.7 L755.9 414.5 L756.6 414.3 L757.4 414.1 L758.1 413.9 L758.9 413.6 L759.6 413.3 L760.4 413.1 L761.1 412.8 L761.9 412.6 L762.6 412.5 L763.4 412.6 L764.1 412.8 L764.9 413.3 L765.6 413.8 L766.4 414.3 L767.1 414.7 L767.9 415.0 L768.6 415.4 L769.4 415.7 L770.1 416.0 L770.9 416.2 L771.6 416.4 L772.4 416.4 L773.1 416.3 L773.9 416.1 L774.6 415.8 L775.4 415.4 L776.1 415.1 L776.9 414.8 L777.6 414.6 L778.4 414.4 L779.1 414.2 L779.9 413.9 L780.6 413.8 L781.4 413.6 L782.1 413.4 L782.9 413.2 L783.6 413.1 L784.4 413.0 L785.1 412.8 L785.9 412.7 L786.6 412.6 L787.4 412.5 L788.1 412.4 L788.9 412.4 L789.6 412.3 L790.4 412.3 L791.1 412.2 L791.9 412.2 L792.6 412.2 L793.4 412.4 L794.1 412.7 L794.9 413.0 L795.6 413.5 L796.4 414.0 L797.1 414.8 L797.9 415.6 L798.6 416.5 L799.4 417.2 L800.1 417.8 L800.9 418.5 L801.6 419.1 L802.4 419.7 L803.1 420.2 L803.9 420.6 L804.6 421.0 L805.4 421.4 L806.1 421.7 L806.9 422.0 L807.6 422.3 L808.4 422.6 L809.1 422.9 L809.9 423.1 L810.6 423.4 L811.4 423.6 L812.1 423.8 L812.9 424.0 L813.6 424.2 L814.4 424.3 L815.1 424.5 L815.9 424.6 L816.6 424.7 L817.4 424.8 L818.1 424.9 L818.9 425.0 L819.6 425.1 L820.4 425.2 L821.1 425.3 L821.9 425.4 L822.6 425.6 L823.4 425.7 L824.1 425.8 L824.9 425.9 L825.1 426.0" stroke="#cc00cc"/>
</g>
<rect x="75.5" y="35.5" width="771.0" height="391.0" fill="none" stroke="#555" stroke-width="1"/>
<path d="M71.5 35.0V427.0M850.5 35.0V427.0M75.0 430.5H847.0M69.5 426.50H71.5M69.5 394.50H71.5M69.5 362.50H71.5M69.5 330.50H71.5M69.5 298.50H71.5M69.5 267.50H71.5M69.5 235.50H71.5M69.5 203.50H71.5M69.5 171.50H71.5M69.5 140.50H71.5M69.5 108.50H71.5M69.5 76.50H71.5M69.5 44.50H71.5M850.5 426.50H853M850.5 407.50H853M850.5 388.50H853M850.5 369.50H853M850.5 349.50H853M850.5 330.50H853M850.5 311.50H853M850.5 292.50H853M850.5 273.50H853M850.5 254.50H853M850.5 235.50H853M850.5 216.50H853M850.5 197.50H853M850.5 178.50H853M850.5 159.50H853M850.5 140.50H853M850.5 121.50H853M850.5 101.50H853M850.5 82.50H853M850.5 63.50H853M850.5 44.50H853M89.5 430.5V432.5M134.5 430.5V432.5M178.5 430.5V432.5M223.5 430.5V432.5M267.5 430.5V432.5M312.5 430.5V432.5M356.5 430.5V432.5M401.5 430.5V432.5M445.5 430.5V432.5M490.5 430.5V432.5M534.5 430.5V432.5M579.5 430.5V432.5M623.5 430.5V432.5M668.5 430.5V432.5M712.5 430.5V432.5M757.5 430.5V432.5M801.5 430.5V432.5" stroke="#aaa" stroke-width="1" fill="none"/>
<g class="tl" text-anchor="end">
<text x="64.6" y="430.9">0</text>
<text x="64.6" y="398.9">200</text>
<text x="64.6" y="366.9">400</text>
<text x="64.6" y="334.9">600</text>
<text x="64.6" y="302.9">800</text>
<text x="64.6" y="271.9">1,000</text>
<text x="64.6" y="239.9">1,200</text>
<text x="64.6" y="207.9">1,400</text>
<text x="64.6" y="175.9">1,600</text>
<text x="64.6" y="144.9">1,800</text>
<text x="64.6" y="112.9">2,000</text>
<text x="64.6" y="80.9">2,200</text>
<text x="64.6" y="48.9">2,400</text>
</g>
<g class="tr">
<text transform="translate(855.5 429.9) scale(1.09 0.95)">0</text>
<text transform="translate(855.5 410.9) scale(1.09 0.95)">2</text>
<text transform="translate(855.5 391.9) scale(1.09 0.95)">4</text>
<text transform="translate(855.5 372.9) scale(1.09 0.95)">6</text>
<text transform="translate(855.5 352.9) scale(1.09 0.95)">8</text>
<text transform="translate(855.5 333.9) scale(1.09 0.95)">10</text>
<text transform="translate(855.5 314.9) scale(1.09 0.95)">12</text>
<text transform="translate(855.5 295.9) scale(1.09 0.95)">14</text>
<text transform="translate(855.5 276.9) scale(1.09 0.95)">16</text>
<text transform="translate(855.5 257.9) scale(1.09 0.95)">18</text>
<text transform="translate(855.5 238.9) scale(1.09 0.95)">20</text>
<text transform="translate(855.5 219.9) scale(1.09 0.95)">22</text>
<text transform="translate(855.5 200.9) scale(1.09 0.95)">24</text>
<text transform="translate(855.5 181.9) scale(1.09 0.95)">26</text>
<text transform="translate(855.5 162.9) scale(1.09 0.95)">28</text>
<text transform="translate(855.5 143.9) scale(1.09 0.95)">30</text>
<text transform="translate(855.5 124.9) scale(1.09 0.95)">32</text>
<text transform="translate(855.5 104.9) scale(1.09 0.95)">34</text>
<text transform="translate(855.5 85.9) scale(1.09 0.95)">36</text>
<text transform="translate(855.5 66.9) scale(1.09 0.95)">38</text>
<text transform="translate(855.5 47.9) scale(1.09 0.95)">40</text>
</g>
<g class="tl" text-anchor="middle">
<text x="89.5" y="445.8">09:00</text>
<text x="134.5" y="445.8">09:30</text>
<text x="178.5" y="445.8">10:00</text>
<text x="223.5" y="445.8">10:30</text>
<text x="267.5" y="445.8">11:00</text>
<text x="312.5" y="445.8">11:30</text>
<text x="356.5" y="445.8">12:00</text>
<text x="401.5" y="445.8">12:30</text>
<text x="445.5" y="445.8">13:00</text>
<text x="490.5" y="445.8">13:30</text>
<text x="534.5" y="445.8">14:00</text>
<text x="579.5" y="445.8">14:30</text>
<text x="623.5" y="445.8">15:00</text>
<text x="668.5" y="445.8">15:30</text>
<text x="712.5" y="445.8">16:00</text>
<text x="757.5" y="445.8">16:30</text>
<text x="801.5" y="445.8">17:00</text>
</g>
<text transform="translate(25.3 231.5) rotate(-90)" text-anchor="middle" textLength="33.5" lengthAdjust="spacingAndGlyphs" style="font-family:'DejaVu Sans','Liberation Sans',sans-serif;font-size:14px;fill:#333;stroke:#333;stroke-width:0.35">Watt</text>
<text class="ax" x="460.7" y="464.7" text-anchor="middle" textLength="29" lengthAdjust="spacingAndGlyphs">time</text>
<text transform="translate(885 230.5) rotate(-90) scale(0.86 1)" text-anchor="middle" style="font-family:'Liberation Sans',sans-serif;font-size:12px;fill:#000">%</text>
<rect x="128.5" y="477.5" width="643" height="20.5" fill="#fff" stroke="#000" stroke-width="1"/>
<path d="M131 487.7H147" stroke="#cc00cc" stroke-width="2.3" fill="none"/>
<path d="M452 487.7H468" stroke="#0033cc" stroke-width="2.3" fill="none"/>
<text class="lg" x="149.8" y="492.6" textLength="296.5" lengthAdjust="spacingAndGlyphs" xml:space="preserve">SB3000TL-20-SN2100578613_21panels( 4.375 kWh )</text>
<text class="lg" x="470.8" y="492.6" textLength="296.5" lengthAdjust="spacingAndGlyphs" xml:space="preserve">SB3000TL-21-SN2130032031_19panels( 4.320 kWh )</text>
</svg></body></html>
